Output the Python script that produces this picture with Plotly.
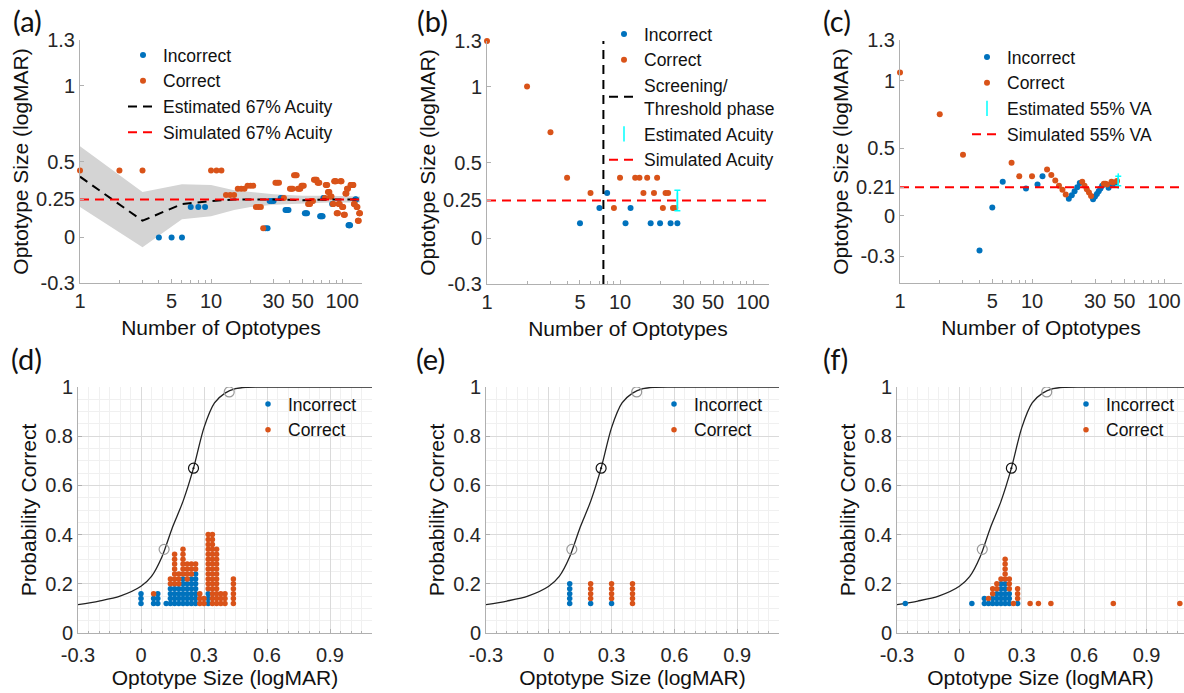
import plotly.graph_objects as go

BLUE = '#0072BD'
ORANGE = '#D95319'
CYAN = '#00FFFF'
GRAY_AX = '#b0b0b0'
FONT = 'Liberation Sans, Arial, sans-serif'

# ---- (a) trial-by-trial, 67% acuity ----
a_inc_n = [4, 5, 6, 7, 8, 9, 26, 27, 28, 29, 30, 34, 35, 37, 38, 39, 52, 53, 54,
           68, 69, 70, 71, 72, 73, 84, 112, 113, 114, 115, 126, 127, 128]
a_inc_size = [0, 0, 0, 0.2, 0.2, 0.2, 0.06, 0.06, 0.24, 0.24, 0.24, 0.26, 0.26,
              0.18, 0.18, 0.18, 0.16, 0.16, 0.16, 0.14, 0.14, 0.14, 0.14, 0.26, 0.26,
              0.22, 0.08, 0.08, 0.08, 0.08, 0.25, 0.25, 0.25]
a_cor_n = [1, 2, 3, 10, 11, 12, 13, 14, 15, 16, 17, 18, 19, 20, 21, 22, 23, 24, 25,
           31, 32, 33, 36, 40, 41, 42, 43, 44, 45, 46, 47, 48, 49, 50, 51,
           55, 56, 57, 58, 59, 60, 61, 62, 63, 64, 65, 66, 67, 74, 75, 76, 77,
           78, 79, 80, 81, 82, 83, 85, 86, 87, 88, 89, 90, 91, 92, 93, 94, 95, 96,
           97, 98, 99, 100, 101, 102, 103, 104, 105, 106, 107, 108, 109, 110, 111,
           116, 117, 118, 119, 120, 121, 122, 123, 124, 125, 129, 130, 131,
           132, 133, 134, 135, 136, 137]
a_cor_size = [0.44, 0.44, 0.44, 0.44, 0.44, 0.44, 0.28, 0.28, 0.28, 0.32, 0.32, 0.32,
              0.34, 0.34, 0.34, 0.2, 0.2, 0.2, 0.06,
              0.36, 0.36, 0.36, 0.26, 0.32, 0.32, 0.32, 0.41, 0.41, 0.41, 0.32, 0.32,
              0.32, 0.34, 0.34, 0.34,
              0.22, 0.22, 0.22, 0.24, 0.24, 0.24, 0.38, 0.38, 0.38, 0.38, 0.36, 0.36,
              0.36, 0.26, 0.345, 0.345, 0.345,
              0.30, 0.30, 0.30, 0.27, 0.27, 0.27, 0.22, 0.22, 0.37, 0.37, 0.37, 0.37,
              0.16, 0.16, 0.16, 0.22, 0.22, 0.22,
              0.37, 0.37, 0.37, 0.20, 0.20, 0.20, 0.15, 0.15, 0.15, 0.29, 0.29, 0.29,
              0.32, 0.32, 0.32,
              0.345, 0.345, 0.345, 0.345, 0.345, 0.345, 0.345, 0.22, 0.22, 0.22,
              0.20, 0.20, 0.20,
              0.11, 0.11, 0.11, 0.16, 0.16, 0.16]
a_est_n = [1, 3, 6, 10, 15, 20, 30, 50, 80, 137]
a_est = [0.40, 0.11, 0.22, 0.24, 0.25, 0.25, 0.25, 0.245, 0.25, 0.25]
a_band_hi = [0.60, 0.30, 0.35, 0.345, 0.31, 0.30, 0.285, 0.275, 0.275, 0.27]
a_band_lo = [0.20, -0.065, 0.12, 0.14, 0.18, 0.20, 0.215, 0.225, 0.23, 0.23]
a_sim_n = [1, 142]
a_sim = [0.25, 0.25]

# ---- (b) screening / threshold run ----
b_inc_n = [5, 7, 8, 11, 12, 17, 20, 24, 27]
b_inc_size = [0.1, 0.2, 0.3, 0.1, 0.2, 0.1, 0.1, 0.1, 0.1]
b_cor_n = [1, 2, 3, 4, 6, 9, 10, 13, 14, 15, 16, 18, 19, 21, 22, 23, 25, 26]
b_cor_size = [1.3, 1.0, 0.7, 0.4, 0.3, 0.2, 0.4, 0.4, 0.4, 0.3, 0.4, 0.3, 0.4,
              0.2, 0.3, 0.3, 0.2, 0.2]
b_phase_n = [7.5, 7.5]
b_phase_y = [-0.3, 1.3]
b_est_n = [27]
b_est = [0.25]
b_est_err = [0.068]
b_sim_n = [1, 140]
b_sim = [0.25, 0.25]

# ---- (c) 55% VA run ----
c_inc_n = [4, 5, 6, 9, 11, 12, 19, 20, 21, 22, 23, 29, 30, 31, 32, 33, 34, 38, 39, 42, 43]
c_inc_size = [-0.26, 0.06, 0.25, 0.2, 0.23, 0.29, 0.125, 0.15, 0.18, 0.21, 0.24,
              0.12, 0.14, 0.16, 0.18, 0.20, 0.22, 0.205, 0.225, 0.23, 0.245]
c_cor_n = [1, 2, 3, 7, 8, 10, 13, 14, 15, 16, 17, 18, 24, 25, 26, 27, 28, 35, 36, 37, 40, 41, 44]
c_cor_size = [1.06, 0.75, 0.45, 0.39, 0.29, 0.29, 0.34, 0.30, 0.26, 0.22, 0.19, 0.155,
              0.25, 0.22, 0.195, 0.17, 0.145, 0.235, 0.235, 0.23, 0.25, 0.245, 0.255]
c_est_n = [45]
c_est = [0.255]
c_est_err = [0.035]
c_sim_n = [1, 140]
c_sim = [0.21, 0.21]

# ---- (d)-(f) responses stacked by optotype size ----
d_levels = [0.0, 0.06, 0.08, 0.12, 0.14, 0.16, 0.18, 0.20, 0.22, 0.24, 0.26, 0.28,
            0.30, 0.32, 0.34, 0.36, 0.38, 0.40, 0.44]
d_inc = [3, 2, 3, 1, 4, 4, 4, 6, 5, 6, 7, 0, 0, 3, 0, 0, 0, 0, 0]
d_cor = [0, 1, 0, 0, 2, 7, 3, 6, 4, 3, 2, 3, 2, 12, 15, 12, 3, 3, 6]

e_levels = [0.1, 0.2, 0.3, 0.4]
e_inc = [5, 1, 1, 0]
e_cor = [0, 4, 4, 5]

f_levels = [-0.26, 0.06, 0.12, 0.14, 0.16, 0.18, 0.20, 0.22, 0.24, 0.26, 0.28,
            0.34, 0.38, 0.44, 0.74, 1.06]
f_inc = [1, 1, 2, 1, 2, 3, 5, 5, 3, 0, 1, 0, 0, 0, 0, 0]
f_cor = [0, 0, 0, 1, 2, 2, 1, 5, 3, 1, 3, 1, 1, 1, 1, 1]

# psychometric function
psy_x = [-0.3, -0.2, -0.1, 0.0, 0.05, 0.1, 0.15, 0.2, 0.25, 0.3, 0.35, 0.4, 0.45,
         0.5, 0.6, 0.8, 1.1]
psy_y = [0.115, 0.13, 0.15, 0.19, 0.23, 0.31, 0.43, 0.535, 0.67, 0.835, 0.935,
         0.975, 0.993, 0.999, 1.0, 1.0, 1.0]
thr_x = [0.11, 0.25, 0.42]
thr_y = [0.34, 0.67, 0.98]

STACK_BASE = 0.12
STACK_STEP = 0.02


def stack(levels, n_inc, n_cor):
    xi, yi, xc, yc = [], [], [], []
    for lv, ni, nc in zip(levels, n_inc, n_cor):
        for k in range(ni):
            xi.append(lv)
            yi.append(STACK_BASE + STACK_STEP * k)
        for k in range(nc):
            xc.append(lv)
            yc.append(STACK_BASE + STACK_STEP * (ni + k))
    return xi, yi, xc, yc


fig = go.Figure()
DASH = '9px,6px'


def dots(x, y, name, color, ax, leg, size=6, clip=True):
    fig.add_trace(go.Scatter(x=x, y=y, mode='markers', name=name,
                             marker=dict(color=color, size=size), cliponaxis=clip,
                             xaxis='x' + ax, yaxis='y' + ax, legend=leg))


def dline(x, y, name, color, ax, leg):
    fig.add_trace(go.Scatter(x=x, y=y, mode='lines', name=name,
                             line=dict(color=color, width=2, dash=DASH),
                             xaxis='x' + ax, yaxis='y' + ax, legend=leg))


def errbar(x, y, err, name, ax, leg):
    fig.add_trace(go.Scatter(x=x, y=y, mode='markers', name=name,
                             marker=dict(symbol='line-ns-open', size=11, color=CYAN,
                                         line=dict(color=CYAN, width=1.5)),
                             error_y=dict(type='data', array=err, color=CYAN,
                                          thickness=1.5, width=3),
                             xaxis='x' + ax, yaxis='y' + ax, legend=leg))


# (a)
fig.add_trace(go.Scatter(x=a_est_n, y=a_band_lo, mode='lines', line=dict(width=0),
                         showlegend=False, hoverinfo='skip', xaxis='x', yaxis='y'))
fig.add_trace(go.Scatter(x=a_est_n, y=a_band_hi, mode='lines', line=dict(width=0),
                         fill='tonexty', fillcolor='#d4d4d4', showlegend=False,
                         hoverinfo='skip', xaxis='x', yaxis='y'))
dots(a_inc_n, a_inc_size, 'Incorrect', BLUE, '', 'legend', clip=False)
dots(a_cor_n, a_cor_size, 'Correct', ORANGE, '', 'legend', clip=False)
dline(a_est_n, a_est, 'Estimated 67% Acuity', 'black', '', 'legend')
dline(a_sim_n, a_sim, 'Simulated 67% Acuity', 'red', '', 'legend')

# (b)
dots(b_inc_n, b_inc_size, 'Incorrect', BLUE, '2', 'legend2', clip=False)
dots(b_cor_n, b_cor_size, 'Correct', ORANGE, '2', 'legend2', clip=False)
dline(b_phase_n, b_phase_y, 'Screening/<br>Threshold phase', 'black', '2', 'legend2')
errbar(b_est_n, b_est, b_est_err, 'Estimated Acuity', '2', 'legend2')
dline(b_sim_n, b_sim, 'Simulated Acuity', 'red', '2', 'legend2')

# (c)
dots(c_inc_n, c_inc_size, 'Incorrect', BLUE, '3', 'legend3', clip=False)
dots(c_cor_n, c_cor_size, 'Correct', ORANGE, '3', 'legend3', clip=False)
errbar(c_est_n, c_est, c_est_err, 'Estimated 55% VA', '3', 'legend3')
dline(c_sim_n, c_sim, 'Simulated 55% VA', 'red', '3', 'legend3')

# (d)-(f)
for ax, leg, (lv, ni, nc) in [('4', 'legend4', (d_levels, d_inc, d_cor)),
                              ('5', 'legend5', (e_levels, e_inc, e_cor)),
                              ('6', 'legend6', (f_levels, f_inc, f_cor))]:
    fig.add_trace(go.Scatter(x=psy_x, y=psy_y, mode='lines', showlegend=False,
                             line=dict(color='#222222', width=1.3, shape='spline',
                                       smoothing=0.8),
                             xaxis='x' + ax, yaxis='y' + ax))
    xi, yi, xc, yc = stack(lv, ni, nc)
    dots(xi, yi, 'Incorrect', BLUE, ax, leg, size=5.5)
    dots(xc, yc, 'Correct', ORANGE, ax, leg, size=5.5)
    fig.add_trace(go.Scatter(x=[thr_x[0], thr_x[2]], y=[thr_y[0], thr_y[2]],
                             mode='markers', showlegend=False,
                             marker=dict(symbol='circle-open', size=10, color='#9a9a9a',
                                         line=dict(width=1.2)),
                             xaxis='x' + ax, yaxis='y' + ax))
    fig.add_trace(go.Scatter(x=[thr_x[1]], y=[thr_y[1]], mode='markers',
                             showlegend=False,
                             marker=dict(symbol='circle-open-dot', size=10,
                                         color='#111111', line=dict(width=1.2)),
                             xaxis='x' + ax, yaxis='y' + ax))

W, H = 1184, 693


def fx(px):
    return px / W


def fy(py):
    return 1 - py / H


tickfont = dict(family=FONT, size=20, color='#262626')
titlefont = dict(family=FONT, size=21, color='#111111')

top_x = dict(type='log', tickvals=[1, 5, 10, 30, 50, 100],
             ticktext=['1', '5', '10', '30', '50', '100'],
             ticks='inside', ticklen=4, tickcolor=GRAY_AX,
             minor=dict(tickvals=[2, 3, 4, 6, 7, 8, 9, 20, 40, 60, 70, 80, 90],
                        ticks='inside', ticklen=3, tickcolor=GRAY_AX, showgrid=False),
             showline=True, linecolor=GRAY_AX, showgrid=False, zeroline=False,
             tickfont=tickfont, ticklabelstandoff=0,
             title=dict(text='Number of Optotypes', font=titlefont, standoff=9))


def top_y(vals, rng, xa):
    return dict(range=rng, tickvals=vals, ticktext=[('%g' % v) for v in vals],
                ticks='inside', ticklen=4, tickcolor=GRAY_AX, showline=True,
                linecolor=GRAY_AX, showgrid=False, zeroline=False, tickfont=tickfont,
                anchor=xa,
                title=dict(text='Optotype Size (logMAR)', font=titlefont, standoff=1))


bot_x = dict(range=[-0.3, 1.1], tickvals=[-0.3, 0, 0.3, 0.6, 0.9],
             ticktext=['-0.3', '0', '0.3', '0.6', '0.9'],
             ticks='inside', ticklen=4, tickcolor=GRAY_AX,
             showline=True, linecolor=GRAY_AX, showgrid=True, gridcolor='#dadada',
             minor=dict(dtick=0.05, tick0=0, ticks='inside', ticklen=2.5,
                        tickcolor=GRAY_AX, showgrid=True, gridcolor='#f0f0f0'),
             zeroline=False, tickfont=tickfont, ticklabelstandoff=4,
             title=dict(text='Optotype Size (logMAR)', font=titlefont, standoff=4))


def bot_y(xa):
    return dict(range=[0, 1], tickvals=[0, 0.2, 0.4, 0.6, 0.8, 1],
                ticktext=['0', '0.2', '0.4', '0.6', '0.8', '1'],
                ticks='inside', ticklen=4, tickcolor=GRAY_AX, showline=True,
                linecolor=GRAY_AX, showgrid=True, gridcolor='#dadada',
                minor=dict(dtick=0.05, tick0=0, showgrid=True, gridcolor='#f0f0f0'),
                zeroline=False, tickfont=tickfont, anchor=xa,
                title=dict(text='Probability Correct', font=titlefont, standoff=2))


def legend(x, y):
    return dict(x=fx(x), y=fy(y), xanchor='left', yanchor='top', bgcolor='rgba(0,0,0,0)',
                font=dict(family=FONT, size=17.5, color='#111111'), itemwidth=30,
                tracegroupgap=0, traceorder='normal')


fig.update_layout(
    width=W, height=H, paper_bgcolor='white', plot_bgcolor='white',
    margin=dict(l=0, r=0, t=0, b=0, autoexpand=False),
    xaxis=dict(top_x, domain=[fx(80), fx(362)], range=[0, 2.152], anchor='y'),
    yaxis=top_y([-0.3, 0, 0.25, 0.5, 1, 1.3], [-0.3, 1.3], 'x') | dict(domain=[fy(283), fy(40)]),
    xaxis2=dict(top_x, domain=[fx(487), fx(769)], range=[0, 2.12], anchor='y2'),
    yaxis2=top_y([-0.3, 0, 0.25, 0.5, 1, 1.3], [-0.3, 1.3], 'x2') | dict(domain=[fy(284), fy(41)]),
    xaxis3=dict(top_x, domain=[fx(900), fx(1182)], range=[0, 2.136], anchor='y3'),
    yaxis3=top_y([-0.3, 0, 0.21, 0.5, 1, 1.3], [-0.5, 1.3], 'x3') | dict(domain=[fy(283), fy(40)]),
    xaxis4=dict(bot_x, domain=[fx(78), fx(372)], anchor='y4'),
    yaxis4=bot_y('x4') | dict(domain=[fy(633), fy(387)]),
    xaxis5=dict(bot_x, domain=[fx(486), fx(779)], anchor='y5'),
    yaxis5=bot_y('x5') | dict(domain=[fy(633), fy(387)]),
    xaxis6=dict(bot_x, domain=[fx(897), 1.0], range=[-0.3, 1.08], anchor='y6'),
    yaxis6=bot_y('x6') | dict(domain=[fy(633), fy(387)]),
    legend=legend(123, 37),
    legend2=legend(604, 16),
    legend3=legend(967, 39),
    legend4=legend(248, 386),
    legend5=legend(654, 386),
    legend6=legend(1066, 386),
    showlegend=True,
)

for lab, x, y in [('(a)', 27, 21), ('(b)', 432, 21), ('(c)', 837, 21),
                  ('(d)', 26, 358), ('(e)', 430, 358), ('(f)', 835, 358)]:
    fig.add_annotation(text=lab, x=fx(x), y=fy(y), xref='paper', yref='paper',
                       showarrow=False, xanchor='center', yanchor='middle',
                       font=dict(family='Lato, Open Sans, sans-serif', size=29,
                                 color='#111111'))

fig.write_html('out.html', config={'displayModeBar': False},
               post_script="document.body.style.margin='0px';")
